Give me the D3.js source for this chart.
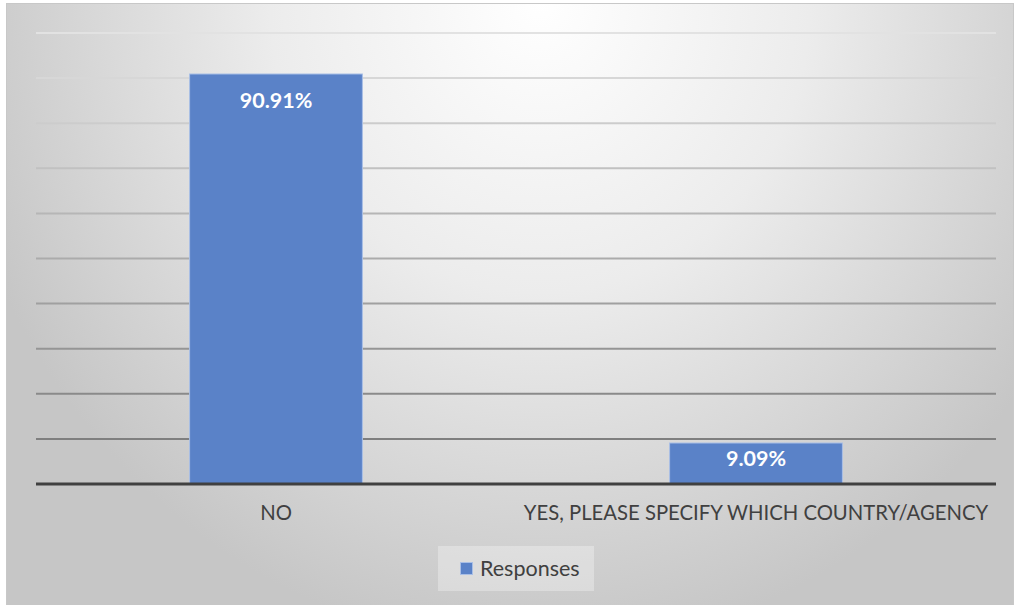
<!DOCTYPE html>
<html>
<head>
<meta charset="utf-8">
<script src="https://cdn.jsdelivr.net/npm/d3@7"></script>
<style>
  html, body { margin: 0; padding: 0; background: #ffffff; }
  svg { display: block; }
</style>
</head>
<body>
<svg id="chart" width="1015" height="605"></svg>
<script>
const categories = ["NO", "YES, PLEASE SPECIFY WHICH COUNTRY/AGENCY"];
const values = [90.91, 9.09];
const valueLabels = ["90.91%", "9.09%"];
const seriesName = "Responses";
const yTicks = [0, 10, 20, 30, 40, 50, 60, 70, 80, 90, 100];

const W = 1015, H = 605;
const margin = { left: 36, right: 19, top: 33, bottom: 121 };
const svg = d3.select("#chart");
const defs = svg.append("defs");
const FONT = "Lato, 'Open Sans', sans-serif";

const bg = defs.append("radialGradient").attr("id", "bg")
  .attr("gradientUnits", "userSpaceOnUse")
  .attr("cx", 540).attr("cy", 0).attr("r", 600)
  .attr("gradientTransform", "translate(540,0) scale(1,1.083) translate(-540,0)");
bg.append("stop").attr("offset", 0).attr("stop-color", "#ffffff");
bg.append("stop").attr("offset", 0.45).attr("stop-color", "#ececec");
bg.append("stop").attr("offset", 1).attr("stop-color", "#c6c6c6");

// chart area
svg.append("rect").attr("x", 6.5).attr("y", 3.5).attr("width", W - 8).attr("height", H)
  .attr("fill", "url(#bg)").attr("stroke", "#c8c8c8").attr("stroke-width", 1);

const x = d3.scaleBand().domain(categories)
  .range([margin.left, W - margin.right])
  .paddingInner(0.64).paddingOuter(0.32);
const y = d3.scaleLinear().domain([0, 100]).range([H - margin.bottom, margin.top]);

// gridlines
svg.append("g").selectAll("line").data(yTicks.filter(d => d > 0)).join("line")
  .attr("x1", margin.left).attr("x2", W - margin.right)
  .attr("y1", d => y(d)).attr("y2", d => y(d))
  .attr("stroke-width", 2)
  .attr("stroke", d => d3.interpolateRgb("#e2e2e2", "#7f7f7f")((100 - d) / 90));

// bars
svg.append("g").selectAll("rect").data(values).join("rect")
  .attr("x", (d, i) => x(categories[i]))
  .attr("width", x.bandwidth())
  .attr("y", d => y(d))
  .attr("height", d => y(0) - y(d))
  .attr("fill", "#5a82c8")
  .attr("stroke", "#a9bfe6").attr("stroke-width", 1);

// baseline axis
const xAxis = d3.axisBottom(x).tickSize(0).tickPadding(22);
const gx = svg.append("g").attr("transform", `translate(0,${y(0)})`).call(xAxis);
gx.select(".domain").attr("stroke", "#404040").attr("stroke-width", 3)
  .attr("d", `M${margin.left},0H${W - margin.right}`);
gx.selectAll("text")
  .attr("fill", "#404040")
  .style("font-family", FONT)
  .style("font-size", "20.3px");

// data labels
svg.append("g").selectAll("text").data(values).join("text")
  .attr("x", (d, i) => x(categories[i]) + x.bandwidth() / 2)
  .attr("y", d => y(d) + Math.min(34, (y(0) - y(d)) * 0.55))
  .attr("text-anchor", "middle")
  .attr("fill", "#ffffff")
  .style("font-family", FONT)
  .style("font-weight", "bold")
  .style("font-size", "21.5px")
  .text((d, i) => valueLabels[i]);

// legend
const lg = svg.append("g");
lg.append("rect").attr("x", 438).attr("y", 546).attr("width", 156).attr("height", 45)
  .attr("fill", "#ffffff").attr("fill-opacity", 0.3);
lg.append("rect").attr("x", 460.5).attr("y", 562.5).attr("width", 12).attr("height", 12)
  .attr("fill", "#5a82c8").attr("stroke", "#a9bfe6").attr("stroke-width", 1);
lg.append("text").attr("x", 480).attr("y", 576)
  .attr("fill", "#404040")
  .style("font-family", FONT)
  .style("font-size", "21.5px")
  .text(seriesName);
</script>
</body>
</html>
